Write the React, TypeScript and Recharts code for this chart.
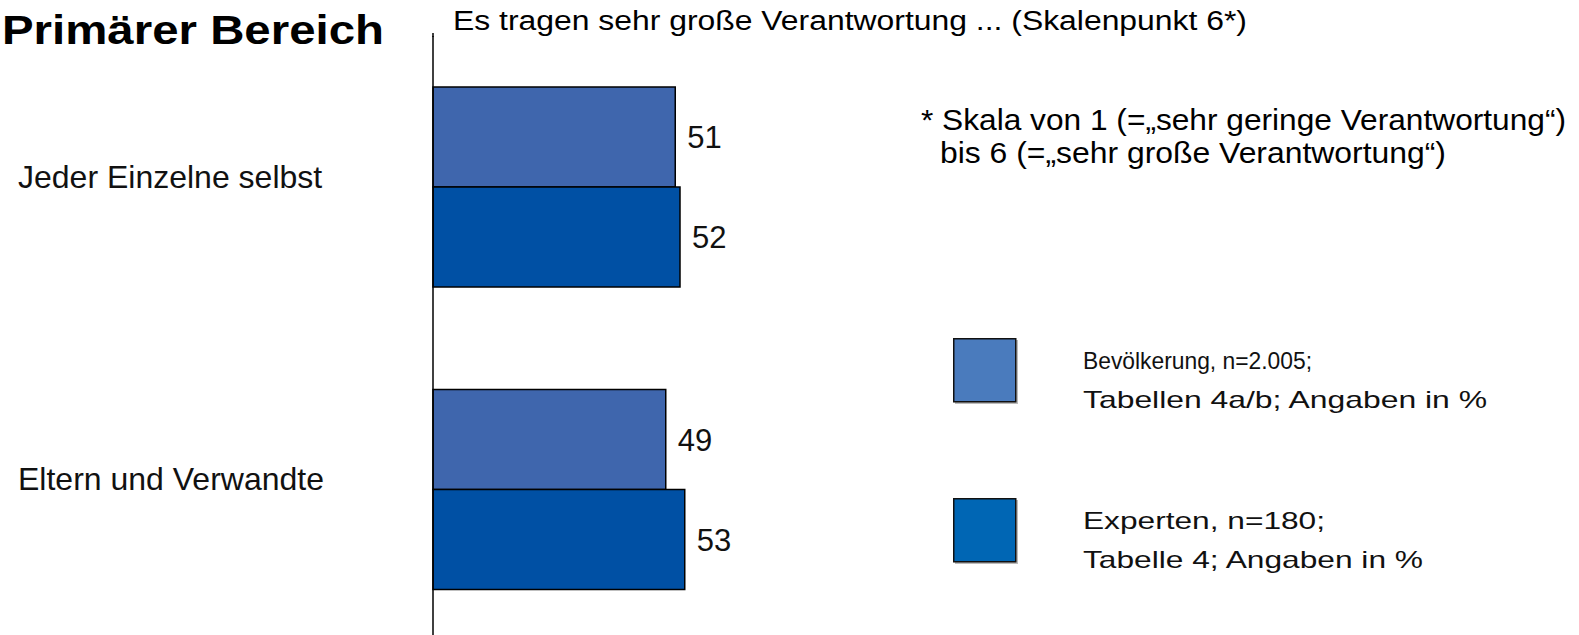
import { BarChart, Bar, XAxis, YAxis, LabelList, Legend } from "recharts";

const categories = ["Jeder Einzelne selbst", "Eltern und Verwandte"];
const bevoelkerung = [51, 49];
const experten = [52, 53];
const seriesNames = ["Bevölkerung, n=2.005;", "Experten, n=180;"];
const seriesNotes = ["Tabellen 4a/b; Angaben in %", "Tabelle 4; Angaben in %"];
const title = "Primärer Bereich";
const subtitle = "Es tragen sehr große Verantwortung ... (Skalenpunkt 6*)";
const footnote = [
  "* Skala von 1 (=„sehr geringe Verantwortung“)",
  "bis 6 (=„sehr große Verantwortung“)",
];

const FONT = "'Liberation Sans', Arial, sans-serif";
const BAR_COLORS = ["#3F66AD", "#0050A4"];
const LEGEND_COLORS = ["#4A7BBD", "#0066B4"];
// widths of the legend lines measured in the reference
const LEGEND_NAME_WIDTHS = [229, 242];
const LEGEND_NOTE_WIDTHS = [404, 340];

const data = categories.map((name, i) => ({
  name,
  bev: bevoelkerung[i],
  exp: experten[i],
}));

const CategoryTick = (props: any) => {
  const { y, payload } = props;
  return (
    <text x={18} y={y - 11} dy="0.36em" fontSize={32} fill="#111" fontFamily={FONT}>
      {payload.value}
    </text>
  );
};

const LegendContent = (props: any) => {
  const payload = props.payload || [];
  return (
    <svg width={626} height={300} style={{ display: "block" }}>
      {payload.map((entry: any, i: number) => {
        const top = i * 160;
        const idx = seriesNames.indexOf(entry.value) >= 0 ? seriesNames.indexOf(entry.value) : i;
        return (
          <g key={entry.value}>
            <rect x={2} y={top + 2} width={63} height={64} fill="#bbb" />
            <rect
              x={0.75}
              y={top + 0.75}
              width={62}
              height={63}
              fill={LEGEND_COLORS[idx]}
              stroke="#111"
              strokeWidth={1.5}
            />
            <text
              x={130}
              y={top + 31}
              fontSize={24}
              fill="#111"
              fontFamily={FONT}
              textLength={LEGEND_NAME_WIDTHS[idx]}
              lengthAdjust="spacingAndGlyphs"
            >
              {entry.value}
            </text>
            <text
              x={130}
              y={top + 70}
              fontSize={24}
              fill="#111"
              fontFamily={FONT}
              textLength={LEGEND_NOTE_WIDTHS[idx]}
              lengthAdjust="spacingAndGlyphs"
            >
              {seriesNotes[idx]}
            </text>
          </g>
        );
      })}
    </svg>
  );
};

export default function App() {
  return (
    <div style={{ position: "absolute", left: 0, top: 0, width: 1579, height: 635, overflow: "hidden", background: "#fff" }}>
      <BarChart
        width={1579}
        height={641}
        data={data}
        layout="vertical"
        barGap={0}
        margin={{ top: 36, right: 671, bottom: 0, left: 373 }}
      >
        <XAxis type="number" domain={[0, 100]} hide />
        <YAxis
          type="category"
          dataKey="name"
          width={60}
          axisLine={{ stroke: "#000", strokeWidth: 1.5 }}
          tickLine={false}
          tick={<CategoryTick />}
        />
        <Legend
          layout="horizontal"
          verticalAlign="middle"
          align="center"
          content={<LegendContent />}
          wrapperStyle={{ left: 953, top: 338, width: 626, height: 300 }}
        />
        <Bar
          dataKey="bev"
          name={seriesNames[0]}
          fill={BAR_COLORS[0]}
          stroke="#000"
          strokeWidth={1.5}
          barSize={100}
          isAnimationActive={false}
        >
          <LabelList dataKey="bev" position="right" offset={12} fontSize={31} fill="#111" fontFamily={FONT} />
        </Bar>
        <Bar
          dataKey="exp"
          name={seriesNames[1]}
          fill={BAR_COLORS[1]}
          stroke="#000"
          strokeWidth={1.5}
          barSize={100}
          isAnimationActive={false}
        >
          <LabelList dataKey="exp" position="right" offset={12} fontSize={31} fill="#111" fontFamily={FONT} />
        </Bar>
      </BarChart>
      <svg
        width={1579}
        height={635}
        style={{ position: "absolute", left: 0, top: 0, pointerEvents: "none" }}
        fontFamily={FONT}
      >
        <text x={2} y={44} fontSize={40} fontWeight="bold" fill="#000" textLength={382} lengthAdjust="spacingAndGlyphs">
          {title}
        </text>
        <text x={453} y={30} fontSize={27} fill="#000" textLength={794} lengthAdjust="spacingAndGlyphs">
          {subtitle}
        </text>
        <text x={921} y={130} fontSize={29} fill="#000" textLength={645} lengthAdjust="spacingAndGlyphs">
          {footnote[0]}
        </text>
        <text x={940} y={163} fontSize={29} fill="#000" textLength={506} lengthAdjust="spacingAndGlyphs">
          {footnote[1]}
        </text>
        <line x1={433} y1={33} x2={433} y2={37} stroke="#000" strokeWidth={1.5} />
      </svg>
    </div>
  );
}
